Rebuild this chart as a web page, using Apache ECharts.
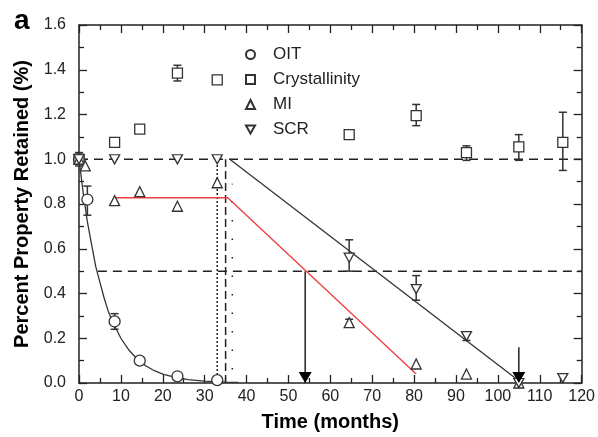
<!DOCTYPE html>
<html>
<head>
<meta charset="utf-8">
<title>Percent Property Retained</title>
<script src="https://cdn.jsdelivr.net/npm/echarts@6/dist/echarts.min.js"></script>
<style>
    html, body { margin: 0; padding: 0; background: #fff; }
    #chart { width: 598px; height: 437px; }
</style>
</head>
<body>
<div id="chart"></div>
<script>
// measured points (months, fraction retained)
var oitX = [0, 2, 8.5, 14.5, 23.5, 33];
var oitY = [1.0, 0.82, 0.275, 0.10, 0.03, 0.013];
var crysX = [0, 8.5, 14.5, 23.5, 33, 64.5, 80.5, 92.5, 105, 115.5];
var crysY = [1.0, 1.075, 1.135, 1.385, 1.355, 1.11, 1.195, 1.03, 1.055, 1.075];
var miX = [0, 1.5, 8.5, 14.5, 23.5, 33, 64.5, 80.5, 92.5, 105];
var miY = [1.0, 0.97, 0.815, 0.855, 0.79, 0.895, 0.27, 0.085, 0.04, 0.0];
var scrX = [0, 8.5, 23.5, 33, 64.5, 80.5, 92.5, 105, 115.5];
var scrY = [1.0, 1.0, 1.0, 1.0, 0.56, 0.42, 0.21, 0.0, 0.022];

// error bars: [x, low, high]
var oitErr = [[0, 0.97, 1.03], [2, 0.75, 0.88], [8.5, 0.24, 0.31]];
var crysErr = [[8.5, 1.06, 1.09], [14.5, 1.12, 1.15], [23.5, 1.35, 1.42], [33, 1.34, 1.365],
    [64.5, 1.10, 1.12], [80.5, 1.15, 1.245], [92.5, 0.995, 1.06], [105, 0.995, 1.11], [115.5, 0.95, 1.21]];
var miErr = [[64.5, 0.25, 0.285]];
var scrErr = [[64.5, 0.50, 0.64], [80.5, 0.37, 0.48], [92.5, 0.19, 0.22]];

// fitted curves
var oitFitX = [0, 1, 2, 3, 4, 5, 6, 7, 8, 10, 12, 14, 16, 18, 20, 23, 26, 30, 35, 38];
var oitFitY = [1.0, 0.85, 0.72, 0.62, 0.52, 0.45, 0.38, 0.32, 0.275, 0.20, 0.145, 0.105, 0.076, 0.055, 0.04, 0.025, 0.015, 0.008, 0.004, 0.003];
var miFitX = [8.5, 35.5, 80.5];
var miFitY = [0.828, 0.828, 0.04];
var scrFitX = [36, 105];
var scrFitY = [1.0, 0.01];

// guide lines
var line100X = [0, 120], line100Y = [1.0, 1.0];
var line50X = [4.5, 120], line50Y = [0.5, 0.5];
var dot33X = [33, 33], dot33Y = [0, 1.0];
var dash35X = [35, 35], dash35Y = [0, 1.0];
var sparseX = [36.6, 36.6], sparseY = [0.06, 0.89];
var arrowAX = [54, 54], arrowAY = [0.5, 0];
var arrowBX = [105, 105], arrowBY = [0.16, 0];
var arrowHeadX = [54, 105], arrowHeadY = [0, 0];

var legendNames = ['OIT', 'Crystallinity', 'MI', 'SCR'];
var FONT = '"Liberation Sans", Arial, sans-serif';
var INK = '#222';
var downTri = 'path://M0,0L10,0L5,8.7Z';

function pairs(xs, ys) {
    var out = [];
    for (var i = 0; i < xs.length; i++) {
        out.push([xs[i], ys[i]]);
    }
    return out;
}

function guide(xs, ys, dash, width) {
    return {
        type: 'line',
        data: pairs(xs, ys),
        showSymbol: false,
        symbol: 'none',
        silent: true,
        z: 1,
        lineStyle: { color: INK, width: width || 1.5, type: dash }
    };
}

function fit(xs, ys, color) {
    return {
        type: 'line',
        data: pairs(xs, ys),
        showSymbol: false,
        symbol: 'none',
        silent: true,
        z: 2,
        lineStyle: { color: color, width: 1.3 }
    };
}

function renderErr(params, api) {
    var x = api.value(0);
    var lo = api.coord([x, api.value(1)]);
    var hi = api.coord([x, api.value(2)]);
    var w = 4;
    var style = { stroke: '#333', lineWidth: 1.5 };
    return {
        type: 'group',
        children: [
            { type: 'line', shape: { x1: lo[0], y1: lo[1], x2: hi[0], y2: hi[1] }, style: style },
            { type: 'line', shape: { x1: lo[0] - w, y1: lo[1], x2: lo[0] + w, y2: lo[1] }, style: style },
            { type: 'line', shape: { x1: hi[0] - w, y1: hi[1], x2: hi[0] + w, y2: hi[1] }, style: style }
        ]
    };
}

function errSeries(list) {
    return {
        type: 'custom',
        renderItem: renderErr,
        data: list,
        encode: { x: 0, y: [1, 2] },
        silent: true,
        z: 3
    };
}

function points(name, xs, ys, symbol, size) {
    return {
        name: name,
        type: 'scatter',
        data: pairs(xs, ys),
        symbol: symbol,
        symbolSize: size,
        z: 4,
        itemStyle: { color: '#fff', borderColor: '#333', borderWidth: 1.3, opacity: 1 }
    };
}

function xAxis(pos, showLabel) {
    return {
        type: 'value', position: pos, min: 0, max: 120, interval: 10,
        axisLine: { onZero: false, lineStyle: { color: INK, width: 1.5 } },
        axisTick: { inside: true, length: 8, lineStyle: { color: INK, width: 1.3 } },
        minorTick: { show: true, splitNumber: 2, length: 5, lineStyle: { color: INK, width: 1.3 } },
        splitLine: { show: false },
        axisLabel: { show: showLabel, color: INK, fontSize: 16, fontFamily: FONT, margin: 6 },
        name: showLabel ? 'Time (months)' : '',
        nameLocation: 'middle',
        nameGap: 29,
        nameTextStyle: { color: '#000', fontSize: 20, fontWeight: 'bold', fontFamily: FONT }
    };
}

function yAxis(pos, showLabel) {
    return {
        type: 'value', position: pos, min: 0, max: 1.6, interval: 0.2,
        axisLine: { onZero: false, lineStyle: { color: INK, width: 1.5 } },
        axisTick: { inside: true, length: 8, lineStyle: { color: INK, width: 1.3 } },
        minorTick: { show: true, splitNumber: 2, length: 5, lineStyle: { color: INK, width: 1.3 } },
        splitLine: { show: false },
        axisLabel: {
            show: showLabel, color: INK, fontSize: 16, fontFamily: FONT, margin: 13,
            formatter: function (v) { return v.toFixed(1); }
        },
        name: showLabel ? 'Percent Property Retained (%)' : '',
        nameLocation: 'middle',
        nameGap: 46,
        nameTextStyle: { color: '#000', fontSize: 20, fontWeight: 'bold', fontFamily: FONT }
    };
}

var chart = echarts.init(document.getElementById('chart'));
var option = {
    animation: false,
    backgroundColor: '#fff',
    grid: { left: 79, right: 14, top: 25, bottom: 52 },
    legend: {
        data: legendNames,
        orient: 'vertical',
        left: 240,
        top: 41,
        itemWidth: 9,
        itemHeight: 9,
        itemGap: 8,
        selectedMode: false,
        textStyle: { color: INK, fontSize: 17, fontFamily: FONT, padding: [0, 0, 0, 13] }
    },
    graphic: [{
        type: 'text',
        left: 14,
        top: 7,
        style: { text: 'a', fill: '#000', font: 'bold 28px ' + FONT }
    }],
    xAxis: [xAxis('bottom', true), xAxis('top', false)],
    yAxis: [yAxis('left', true), yAxis('right', false)],
    series: [
        guide(line100X, line100Y, [9, 6]),
        guide(line50X, line50Y, [9, 6]),
        guide(dot33X, dot33Y, [2, 2]),
        guide(dash35X, dash35Y, [8, 4]),
        guide(sparseX, sparseY, [1.5, 17]),
        guide(arrowAX, arrowAY, 'solid', 1.5),
        guide(arrowBX, arrowBY, 'solid', 1.5),
        fit(oitFitX, oitFitY, '#333'),
        fit(miFitX, miFitY, '#f03c3c'),
        fit(scrFitX, scrFitY, '#333'),
        errSeries(oitErr),
        errSeries(crysErr),
        errSeries(miErr),
        errSeries(scrErr),
        points('OIT', oitX, oitY, 'circle', 11),
        points('Crystallinity', crysX, crysY, 'rect', 10),
        points('MI', miX, miY, 'triangle', 10),
        points('SCR', scrX, scrY, downTri, [10, 9]),
        {
            type: 'scatter',
            data: pairs(arrowHeadX, arrowHeadY),
            symbol: downTri,
            symbolSize: [13, 11],
            symbolOffset: [0, -5.5],
            silent: true,
            z: 5,
            itemStyle: { color: '#000', opacity: 1 }
        }
    ]
};
chart.setOption(option);
</script>
</body>
</html>
